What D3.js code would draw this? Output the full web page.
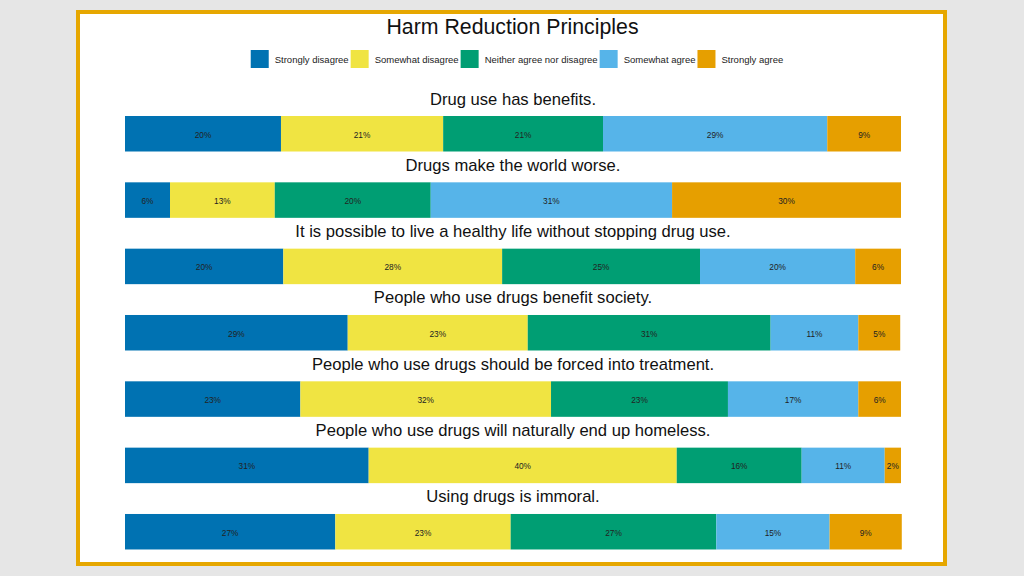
<!DOCTYPE html>
<html><head><meta charset="utf-8">
<script src="https://cdn.jsdelivr.net/npm/d3@7"></script>
<style>html,body{margin:0;padding:0;background:#e6e6e6;}svg{display:block;font-family:"Liberation Sans",Arial,sans-serif;}</style>
</head><body>
<svg id="chart" width="1024" height="576"></svg>
<script>
const title = "Harm Reduction Principles";
const categories = ["Strongly disagree","Somewhat disagree","Neither agree nor disagree","Somewhat agree","Strongly agree"];
const colors = ["#0072B2","#F0E442","#009E73","#56B4E9","#E69F00"];
const statements = [
  "Drug use has benefits.",
  "Drugs make the world worse.",
  "It is possible to live a healthy life without stopping drug use.",
  "People who use drugs benefit society.",
  "People who use drugs should be forced into treatment.",
  "People who use drugs will naturally end up homeless.",
  "Using drugs is immoral."
];
const stronglyDisagree = [20.1, 5.8, 20.4, 28.7, 22.6, 31.4, 27.1];
const somewhatDisagree = [20.9, 13.5, 28.2, 23.2, 32.3, 39.7, 22.6];
const neither          = [20.6, 20.1, 25.5, 31.3, 22.8, 16.1, 26.5];
const somewhatAgree    = [28.9, 31.1, 20.0, 11.3, 16.8, 10.7, 14.6];
const stronglyAgree    = [ 9.5, 29.5,  5.9,  5.4,  5.5,  2.1,  9.3];
const labels = [
  ["20%","21%","21%","29%","9%"],
  ["6%","13%","20%","31%","30%"],
  ["20%","28%","25%","20%","6%"],
  ["29%","23%","31%","11%","5%"],
  ["23%","32%","23%","17%","6%"],
  ["31%","40%","16%","11%","2%"],
  ["27%","23%","27%","15%","9%"]
];
const seriesVals = [stronglyDisagree, somewhatDisagree, neither, somewhatAgree, stronglyAgree];

const svg = d3.select("#chart");
// panel
svg.append("rect").attr("x",78).attr("y",12).attr("width",867).attr("height",552)
  .attr("fill","#ffffff").attr("stroke","#E6A700").attr("stroke-width",4);

svg.append("text").attr("x",512.5).attr("y",34).attr("text-anchor","middle")
  .attr("font-size",21.3).attr("fill","#111").text(title);

// legend
const lg = svg.append("g");
let lx = 0;
categories.forEach((c,i)=>{
  const g = lg.append("g").attr("transform",`translate(${lx},0)`);
  g.append("rect").attr("x",0).attr("y",0).attr("width",18).attr("height",18).attr("fill",colors[i]);
  const t = g.append("text").attr("x",24).attr("y",13).attr("font-size",9.5).attr("fill","#222").text(c);
  lx += 24 + t.node().getComputedTextLength() + 2;
});
lg.attr("transform",`translate(${518 - lx/2},50)`);

const x = d3.scaleLinear().domain([0,100]).range([125,901]);
const y = d3.scaleBand().domain(statements).range([82.5, 82.5 + 7*66.33]).padding(0);

const rows = statements.map((s,r)=>{
  let cum = 0;
  return {s, segs: seriesVals.map((arr,i)=>{ const o={x0:cum,x1:cum+arr[r],i,label:labels[r][i]}; cum+=arr[r]; return o;})};
});

const rg = svg.selectAll("g.row").data(rows).join("g").attr("class","row")
  .attr("transform",d=>`translate(0,${y(d.s)})`);
rg.append("text").attr("x",(x(0)+x(100))/2).attr("y",22).attr("text-anchor","middle")
  .attr("font-size",16.6).attr("fill","#111").text(d=>d.s);
const sg = rg.selectAll("g.seg").data(d=>d.segs).join("g").attr("class","seg");
sg.append("rect").attr("x",d=>x(d.x0)).attr("y",33.5).attr("width",d=>x(d.x1)-x(d.x0)).attr("height",35.5)
  .attr("fill",d=>colors[d.i]);
sg.append("text").attr("x",d=>(x(d.x0)+x(d.x1))/2).attr("y",55.3).attr("text-anchor","middle")
  .attr("font-size",8.3).attr("fill","#222").text(d=>d.label);
</script>
</body></html>
